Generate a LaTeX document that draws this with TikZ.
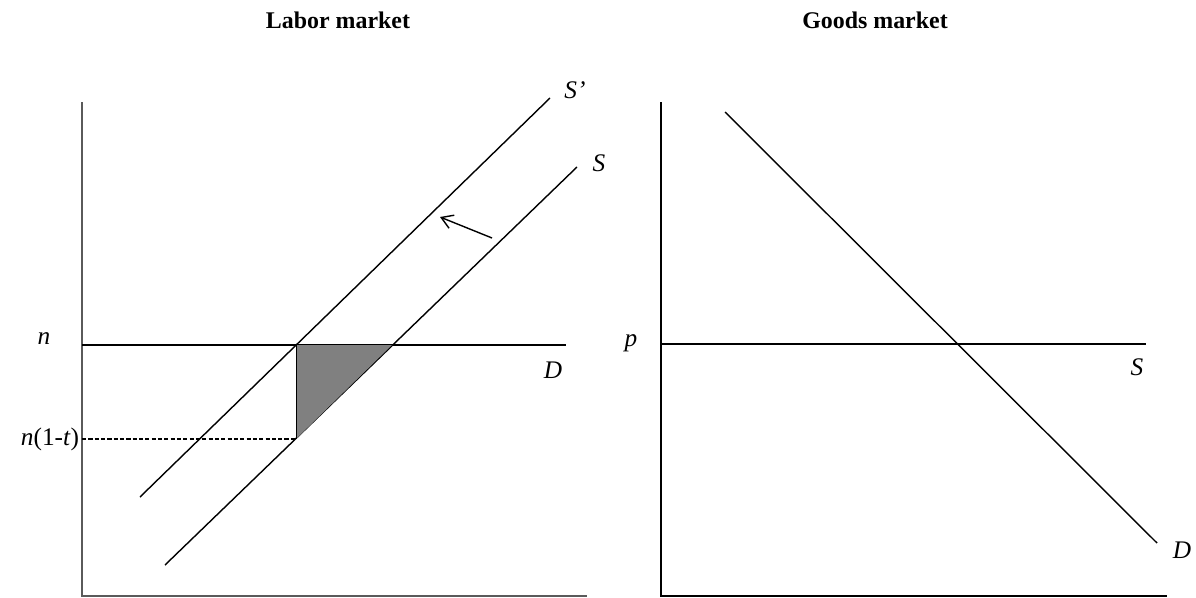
\documentclass[tikz,border=0pt]{standalone}
\usepackage{fontspec}
\setmainfont{Liberation Serif}
\usepackage{xcolor}
\usetikzlibrary{arrows.meta, positioning}
\definecolor{axisgray}{RGB}{90,90,90}
\definecolor{shadegray}{RGB}{128,128,128}
\tikzstyle{axis} = [draw=axisgray, line width=1.2pt]
\tikzstyle{curve} = [draw=black, line width=1pt]
\tikzstyle{title} = [draw=none, fill=none, font=\fontsize{17}{19}\selectfont\bfseries]
\tikzstyle{lbl} = [draw=none, fill=none, font=\fontsize{18}{20}\selectfont\itshape, inner sep=0pt]
\tikzstyle{arrow} = [line width=1pt, -{Straight Barb[length=8pt, width=10pt]}]

\begin{document}
\begin{tikzpicture}[x=0.025cm, y=-0.025cm]
\useasboundingbox (0,0) rectangle (1196,598);

% ===== TITLES =====
\node (labor_title) [title] at (338, 20) {Labor market};
\node (goods_title) [title] at (875, 20) {Goods market};

% ===== LABOR MARKET =====
\coordinate (lo) at (82, 596);
\coordinate (ly) at (82, 102);
\coordinate (lx) at (587, 596);
\draw [axis] (ly) -- (lo) -- (lx);

% demand (horizontal)
\coordinate (ld_start) at (82, 345);
\coordinate (ld_end) at (566, 345);
\draw [curve] (ld_start) -- (ld_end);

% supply curves
\coordinate (sp_start) at (140, 497);
\coordinate (sp_end) at (550, 98);
\coordinate (s_start) at (165, 565);
\coordinate (s_end) at (577, 167);
\draw [curve] (sp_start) -- (sp_end);
\draw [curve] (s_start) -- (s_end);

% tax wedge
\coordinate (wedge_a) at (296, 345);
\coordinate (wedge_b) at (392, 345);
\coordinate (wedge_c) at (296, 439);
\fill [shadegray] (wedge_a) -- (wedge_b) -- (wedge_c) -- cycle;
\draw [line width=0.5pt] (wedge_a) -- (wedge_c);
\coordinate (net_start) at (82, 439);
\draw [dashed, line width=0.9pt, dash pattern=on 3pt off 1.5pt] (net_start) -- (wedge_c);

% shift arrow
\coordinate (shift_from) at (492, 238);
\coordinate (shift_to) at (440, 217);
\draw [arrow] (shift_from) -- (shift_to);

% labels
\node (n_lbl) [lbl] at (44, 339) {n};
\node (nt_lbl) [lbl, font=\fontsize{18}{20}\selectfont] at (50, 439) {\textit{n}(1-\textit{t})};
\node (ld_lbl) [lbl] at (553, 370) {D};
\node (sp_lbl) [lbl] at (575, 90) {S’};
\node (s_lbl) [lbl] at (599, 163) {S};

% ===== GOODS MARKET =====
\coordinate (ro) at (661, 596);
\coordinate (ry) at (661, 102);
\coordinate (rx) at (1167, 596);
\draw [axis, draw=black] (ry) -- (ro) -- (rx);

% supply (horizontal)
\coordinate (rs_start) at (661, 344);
\coordinate (rs_end) at (1146, 344);
\draw [curve] (rs_start) -- (rs_end);

% demand
\coordinate (rd_start) at (725, 112);
\coordinate (rd_end) at (1157, 543);
\draw [curve] (rd_start) -- (rd_end);

% labels
\node (p_lbl) [lbl] at (631, 343) {p};
\node (rs_lbl) [lbl] at (1137, 367) {S};
\node (rd_lbl) [lbl] at (1182, 550) {D};

\end{tikzpicture}
\end{document}
